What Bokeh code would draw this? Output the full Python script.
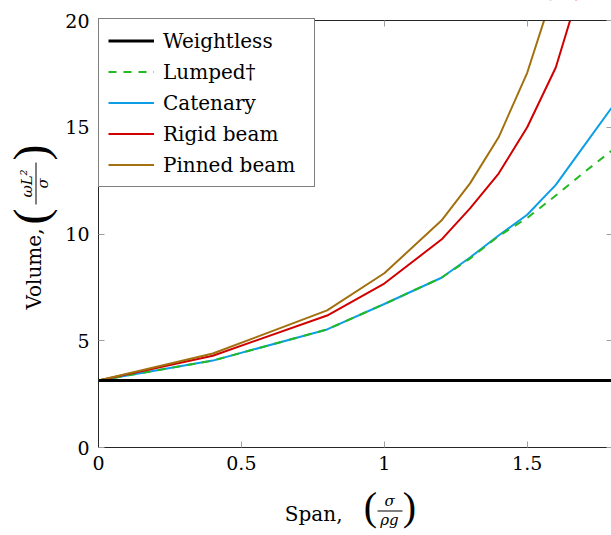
from bokeh.plotting import figure
from bokeh.models import (LinearAxis, Legend, LegendItem, FixedTicker, Range1d,
                          Label, Arrow, BoxAnnotation)
from bokeh.embed import file_html
from bokeh.resources import INLINE
import math

# ---- data ----
span_x = [0.0, 0.4, 0.8, 1.0, 1.2, 1.3, 1.4, 1.5, 1.6, 1.7, 1.8]
weightless_x = [0.0, 1.8]
weightless_y = [math.pi, math.pi]
lumped_y = [3.14, 4.07, 5.53, 6.72, 7.95, 8.85, 9.9, 10.75, 11.8, 12.9, 13.95]
catenary_y = [3.14, 4.07, 5.53, 6.72, 7.95, 8.9, 9.93, 10.9, 12.3, 14.15, 16.0]
rigid_x = [0.0, 0.4, 0.8, 1.0, 1.2, 1.3, 1.4, 1.5, 1.6, 1.7]
rigid_y = [3.14, 4.3, 6.18, 7.68, 9.74, 11.2, 12.83, 15.0, 17.8, 22.2]
pinned_x = [0.0, 0.4, 0.8, 1.0, 1.2, 1.3, 1.4, 1.5, 1.6]
pinned_y = [3.14, 4.4, 6.42, 8.16, 10.63, 12.37, 14.53, 17.55, 21.7]

x_lim = (0.0, 1.8)
y_lim = (0.0, 20.0)
x_ticks = [0, 0.5, 1, 1.5]
x_tick_labels = ["0", "0.5", "1", "1.5"]
y_ticks = [0, 5, 10, 15, 20]
y_tick_labels = ["0", "5", "10", "15", "20"]

series_names = ["Weightless", "Lumped\u2020", "Catenary", "Rigid beam", "Pinned beam"]
colors = ["#000000", "#22b922", "#0c9ee6", "#d10000", "#a2700e"]

x_label_word = "Span,"
x_label_num = "\u03c3"
x_label_den = "\u03c1g"
y_label_word = "Volume,"
y_label_num = "\u03c9L\u00b2"
y_label_den = "\u03c3"

FONT = "DejaVu Serif"
PAREN_FONT = "Liberation Serif"

# ---- layout (canvas pixels) ----
W, H = 611, 535
FL, FT, FB = 98, 20, 447          # plot-area left / top / bottom
PX_PER_X = 285.8                  # pixels per x unit
PX_PER_Y = (FB - FT) / (y_lim[1] - y_lim[0])

xr = Range1d(x_lim[0] - FL / PX_PER_X, x_lim[0] + (W - FL) / PX_PER_X)
yr = Range1d(y_lim[0] - (H - FB) / PX_PER_Y, y_lim[1] + FT / PX_PER_Y)

p = figure(width=W, height=H, x_range=xr, y_range=yr,
           output_backend="svg", toolbar_location=None, min_border=0)
p.outline_line_color = None
p.xgrid.visible = False
p.ygrid.visible = False
p.background_fill_color = "white"
p.border_fill_color = "white"

def style_axis(ax, ticks, labels, loc, bounds, show_labels=True, line=True):
    ax.fixed_location = loc
    ax.bounds = bounds
    ax.ticker = FixedTicker(ticks=ticks)
    ax.major_label_overrides = {t: l for t, l in zip(ticks, labels)}
    ax.minor_tick_line_color = None
    ax.major_tick_in = 6
    ax.major_tick_out = 0
    ax.major_tick_line_color = "#a0a0a0"
    ax.major_tick_line_width = 1
    ax.axis_line_color = "#262626" if line else None
    ax.axis_line_width = 1
    ax.major_label_text_font = FONT
    ax.major_label_text_color = "black"
    if show_labels:
        ax.major_label_text_font_size = "19px"
        ax.major_label_standoff = 8
    else:
        ax.major_label_text_font_size = "0px"
        ax.major_label_standoff = 0

style_axis(p.xaxis[0], x_ticks, x_tick_labels, y_lim[0], x_lim)
style_axis(p.yaxis[0], y_ticks, y_tick_labels, x_lim[0], y_lim)
p.yaxis[0].major_label_standoff = 9

top_ax = LinearAxis()
style_axis(top_ax, x_ticks, [""] * len(x_ticks), y_lim[1], x_lim, show_labels=False)
p.add_layout(top_ax, "above")
right_ax = LinearAxis()
style_axis(right_ax, y_ticks, [""] * len(y_ticks), x_lim[1], y_lim, show_labels=False, line=False)
p.add_layout(right_ax, "right")

# ---- series ----
r_cat = p.line(span_x, catenary_y, line_color=colors[2], line_width=2)
r_lum = p.line(span_x, lumped_y, line_color=colors[1], line_width=2, line_dash="8 7")
r_rig = p.line(rigid_x, rigid_y, line_color=colors[3], line_width=2)
r_pin = p.line(pinned_x, pinned_y, line_color=colors[4], line_width=2)
r_wl = p.line(weightless_x, weightless_y, line_color=colors[0], line_width=3)
for r in (r_cat, r_lum, r_rig, r_pin, r_wl):
    r.level = "underlay"

# white mask above the plot area (the curves leave the axis box at the top)
p.add_layout(BoxAnnotation(bottom=y_lim[1], top=H + 10, top_units="screen",
                           left=-10, left_units="screen",
                           right=W + 10, right_units="screen",
                           fill_color="white", fill_alpha=1.0,
                           line_color=None, level="glyph"))

# ---- axis titles with stacked fractions ----
def sx(cx):
    return cx

def sy(cy):
    return H - cy

def txt(text, cx, cy, size, align="center", angle=0.0, font=FONT, style="normal"):
    p.add_layout(Label(x=sx(cx), y=sy(cy), x_units="screen", y_units="screen",
                       text=text, text_font=font, text_font_size=size,
                       text_font_style=style, text_color="black",
                       text_align=align, text_baseline="middle", angle=angle))

def bar(cx0, cy0, cx1, cy1):
    p.add_layout(Arrow(x_start=sx(cx0), y_start=sy(cy0), x_end=sx(cx1), y_end=sy(cy1),
                       start_units="screen", end_units="screen", end=None,
                       line_color="black", line_width=1))

# x-axis title
txt(x_label_word, 342, 513, "20px", align="right")
txt("(", 370, 506, "40px", font=PAREN_FONT)
txt(x_label_num, 389, 500, "15px", style="italic")
bar(377, 510.5, 402, 510.5)
txt(x_label_den, 389, 519, "15px", style="italic")
txt(")", 409, 506, "40px", font=PAREN_FONT)

# y-axis title (rotated, reading bottom to top)
A = math.pi / 2
txt(y_label_word, 33, 228, "20px", align="right", angle=A)
txt("(", 30, 216, "48px", angle=A, font=PAREN_FONT)
txt(y_label_num, 26, 183, "15px", angle=A, style="italic")
bar(35.5, 162, 35.5, 204)
txt(y_label_den, 42, 183, "15px", angle=A, style="italic")
txt(")", 30, 152, "48px", angle=A, font=PAREN_FONT)

# ---- legend ----
legend = Legend(items=[
    LegendItem(label=series_names[0], renderers=[r_wl]),
    LegendItem(label=series_names[1], renderers=[r_lum]),
    LegendItem(label=series_names[2], renderers=[r_cat]),
    LegendItem(label=series_names[3], renderers=[r_rig]),
    LegendItem(label=series_names[4], renderers=[r_pin]),
])
legend.padding = 9
legend.spacing = 6
legend.glyph_width = 46
legend.glyph_height = 25
legend.label_height = 25
legend.label_width = 142
legend.label_standoff = 9
legend_h = 2 * legend.padding + 5 * legend.glyph_height + 4 * legend.spacing
legend.location = (FL, H - FT - legend_h)
legend.margin = 0
legend.label_text_font = FONT
legend.label_text_font_size = "20px"
legend.label_text_color = "black"
legend.border_line_color = "black"
legend.border_line_width = 1
legend.background_fill_alpha = 1.0
p.add_layout(legend, "center")

open("out.html", "w").write(file_html(p, INLINE))
